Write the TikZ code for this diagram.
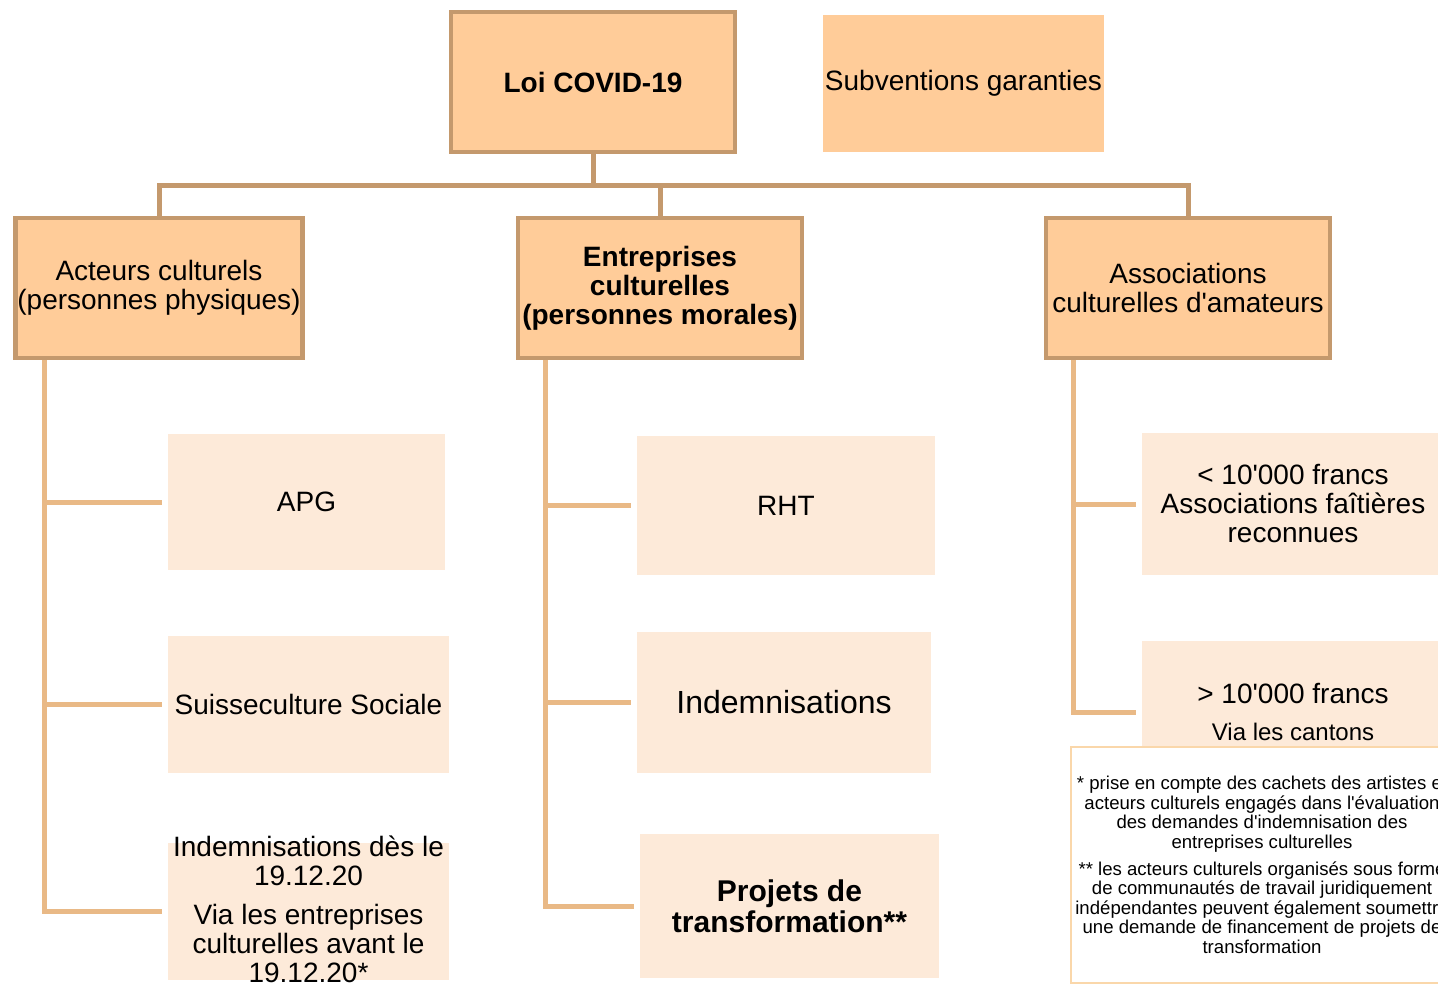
\documentclass[tikz,border=0pt]{standalone}
\usepackage{fontspec}
\newfontfamily\arial{Liberation Sans}
\usetikzlibrary{positioning}
\definecolor{peach}{RGB}{255,204,153}
\definecolor{lightpeach}{RGB}{253,234,217}
\definecolor{framecolor}{RGB}{196,153,109}
\definecolor{stemcolor}{RGB}{233,185,134}
\definecolor{notecolor}{RGB}{250,215,170}

\begin{document}
\begin{tikzpicture}[x=0.5pt, y=-0.5pt, line join=miter,
  mainbox/.style={draw=framecolor, line width=2.2pt, fill=peach, minimum width=142pt,
    minimum height=70pt, align=center, inner sep=1pt, font=\arial\fontsize{14}{14.5}\selectfont},
  boldbox/.style={mainbox, font=\arial\bfseries\fontsize{14}{14.5}\selectfont},
  childbox/.style={fill=lightpeach, align=center, inner sep=1pt, font=\arial\fontsize{14}{14.5}\selectfont},
  bus/.style={draw=framecolor, line width=2.5pt},
  stem/.style={draw=stemcolor, line width=2.5pt, shorten >=3pt}]

  \useasboundingbox (0,0) rectangle (1438,984);
  \clip (0,0) rectangle (1438,984);

  % Top of the tree
  \node[boldbox] (loi) at (593,82) {Loi COVID-19};
  \node[childbox, fill=peach, minimum width=140.5pt, minimum height=68.5pt] (subv)
    at (963.5,83.5) {Subventions garanties};

  % Second level
  \node[mainbox] (acteurs) at (159,288) {Acteurs culturels\\(personnes physiques)};
  \node[boldbox] (entreprises) at (660,288) {Entreprises\\culturelles\\(personnes morales)};
  \node[mainbox] (assoc) at (1188,288) {Associations\\culturelles d'amateurs};

  % Bus between the levels
  \coordinate (bus) at (593,186);
  \draw[bus] (loi.south) -- (bus);
  \draw[bus] (acteurs.north) |- (assoc.north |- bus) -- (assoc.north);
  \draw[bus] (entreprises.north) -- (entreprises.north |- bus);

  % Children of the acteurs culturels
  \node[childbox, minimum width=138.5pt, minimum height=68pt] (apg) at (306.5,502) {APG};
  \node[childbox, minimum width=140.5pt, minimum height=68.5pt] (suisse) at (308.5,704.5)
    {Suisseculture Sociale};
  \node[childbox, minimum width=140.5pt, minimum height=68.5pt] (indemac) at (308.5,911.5) {};
  \node[font=\arial\fontsize{14}{14.5}\selectfont, align=center, yshift=1pt] (indemactxt) at (indemac)
    {Indemnisations dès le\\19.12.20\\[5pt]Via les entreprises\\culturelles avant le\\19.12.20*};

  % Children of the entreprises culturelles
  \node[childbox, minimum width=149pt, minimum height=69.5pt] (rht) at (786,505.5) {RHT};
  \node[childbox, minimum width=147pt, minimum height=70.5pt, font=\arial\fontsize{16}{17}\selectfont]
    (indement) at (784,702.5) {Indemnisations};
  \node[childbox, minimum width=149.5pt, minimum height=72pt, font=\arial\bfseries\fontsize{15}{15.5}\selectfont]
    (projets) at (789.5,906) {Projets de\\transformation**};

  % Children of the associations
  \node[childbox, minimum width=151pt, minimum height=71pt] (moins) at (1293,504)
    {< 10'000 francs\\Associations faîtières\\reconnues};
  \node[childbox, minimum width=151pt, minimum height=71pt] (plus) at (1293,712)
    {> 10'000 francs\\[4pt]{\fontsize{12}{12.5}\selectfont Via les cantons}};

  % Stems with their branches
  \coordinate (sa) at (44,360);
  \coordinate (se) at (545,360);
  \coordinate (ss) at (1073,360);
  \draw[stem] (sa) |- (apg.west);
  \draw[stem] (sa) |- (suisse.west);
  \draw[stem] (sa) |- (indemac.west);
  \draw[stem] (se) |- (rht.west);
  \draw[stem] (se) |- (indement.west);
  \draw[stem] (se) |- (projets.west);
  \draw[stem] (ss) |- (moins.west);
  \draw[stem] (ss) |- (plus.west);

  % Footnotes
  \node[draw=notecolor, line width=0.6pt, fill=white, minimum width=191pt, minimum height=118pt,
    align=center, inner sep=1pt, font=\arial\fontsize{9.3}{9.75}\selectfont] (note) at (1262,865)
    {* prise en compte des cachets des artistes et\\acteurs culturels engagés dans l'évaluation\\
     des demandes d'indemnisation des\\entreprises culturelles\\[3.75pt]
     ** les acteurs culturels organisés sous forme\\de communautés de travail juridiquement\\
     indépendantes peuvent également soumettre\\une demande de financement de projets de\\
     transformation};

\end{tikzpicture}
\end{document}
